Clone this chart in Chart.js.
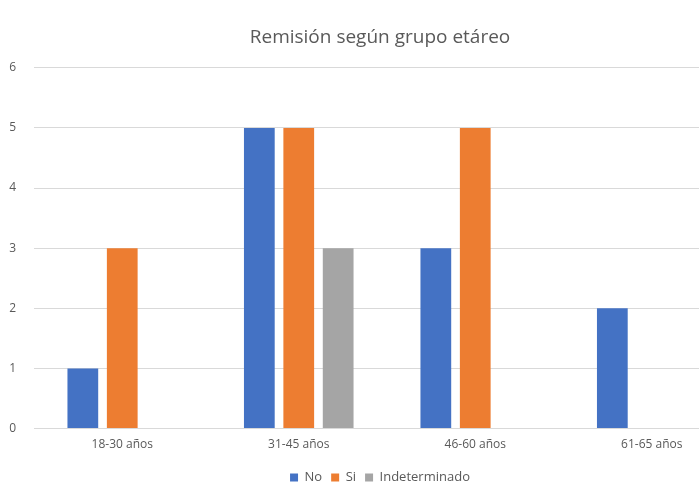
<!DOCTYPE html>
<html>
<head>
<meta charset="utf-8">
<script src="https://cdn.jsdelivr.net/npm/chart.js"></script>
<style>
  html, body { margin: 0; padding: 0; background: #fff; overflow: hidden; }
  #wrap { position: relative; width: 760px; height: 487px; }
</style>
</head>
<body>
<div id="wrap"><canvas id="grafico"></canvas></div>
<script>
// datos del gráfico
const grupos = ['18-30 años', '31-45 años', '46-60 años', '61-65 años'];
const remisionNo = [1, 5, 3, 2];
const remisionSi = [3, 5, 5, 0];
const remisionIndet = [0, 3, 0, 0];
const ticksY = [0, 1, 2, 3, 4, 5, 6];

const fuente = "'Open Sans', 'Lato', sans-serif";
const gris = '#595959';

const ctx = document.getElementById('grafico').getContext('2d');
new Chart(ctx, {
    type: 'bar',
    data: {
        labels: grupos,
        datasets: [
            { label: 'No', data: remisionNo, backgroundColor: '#4472C4' },
            { label: 'Si', data: remisionSi, backgroundColor: '#ED7D31' },
            { label: 'Indeterminado', data: remisionIndet, backgroundColor: '#A5A5A5' }
        ]
    },
    options: {
        responsive: true,
        maintainAspectRatio: false,
        animation: false,
        layout: { padding: { left: 0, right: 0, top: 0, bottom: -7 } },
        datasets: { bar: { categoryPercentage: 0.67, barPercentage: 0.78 } },
        plugins: {
            title: {
                display: true,
                text: 'Remisión según grupo etáreo',
                color: gris,
                font: { family: fuente, size: 19, weight: 'normal' },
                padding: { top: 26, bottom: 19 }
            },
            legend: {
                position: 'bottom',
                labels: {
                    color: gris,
                    font: { family: fuente, size: 13 },
                    boxWidth: 8,
                    boxHeight: 8,
                    padding: 9
                }
            },
            tooltip: { enabled: false }
        },
        scales: {
            x: {
                grid: { display: false },
                border: { color: '#d9d9d9' },
                afterFit: (axis) => { axis.height += 9; },
                ticks: { color: gris, font: { family: fuente, size: 12 }, padding: 1 }
            },
            y: {
                min: 0,
                max: 6,
                afterBuildTicks: (axis) => { axis.ticks = ticksY.map(v => ({ value: v })); },
                afterFit: (axis) => { axis.width = 34; },
                grid: { color: '#d9d9d9', drawTicks: false },
                border: { display: false },
                ticks: { color: gris, font: { family: fuente, size: 12 }, padding: 18 }
            },
            // eje vacío a la derecha: sólo reserva margen
            margenDer: {
                type: 'linear',
                position: 'right',
                afterFit: (axis) => { axis.width = 20; },
                grid: { display: false },
                border: { display: false },
                ticks: { display: false }
            }
        }
    }
});
</script>
</body>
</html>
